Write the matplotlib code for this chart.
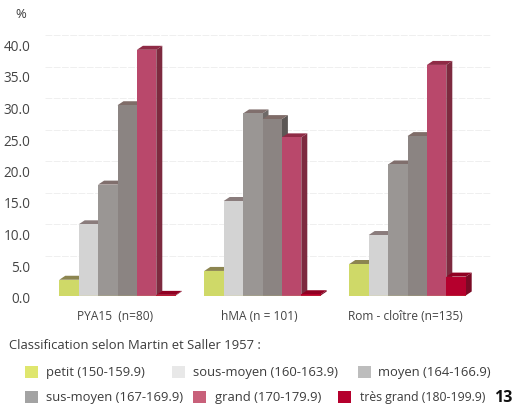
import matplotlib
matplotlib.use("Agg")
import matplotlib.pyplot as plt
from matplotlib.patches import Polygon, Rectangle
from matplotlib.transforms import ScaledTranslation

plt.rcParams['font.family'] = ['Open Sans', 'DejaVu Sans']

groups = ["PYA15  (n=80)", "hMA (n = 101)", "Rom - cloître (n=135)"]
petit = [2.5, 3.9, 5.0]
sous_moyen = [11.3, 15.0, 9.6]
moyen = [17.6, 28.9, 20.8]
sus_moyen = [30.2, 28.0, 25.3]
grand = [39.0, 25.1, 36.6]
tres_grand = [0.1, 0.2, 3.0]
series = [petit, sous_moyen, moyen, sus_moyen, grand, tres_grand]
labels = ["petit (150-159.9)", "sous-moyen (160-163.9)", "moyen (164-166.9)",
          "sus-moyen (167-169.9)", "grand (170-179.9)", "très grand (180-199.9)"]
front = ["#cfd968", "#d3d3d3", "#9a9694", "#8b8482", "#b9486b", "#b5002d"]
side = ["#8f9448", "#8f8f8f", "#6e6a68", "#5c5755", "#7d2a3f", "#7a0a25"]
top = ["#8c8550", "#8a7c7c", "#806f6d", "#7f6c68", "#8f2b46", "#900022"]
swatch = ["#dfe66e", "#e8e8e8", "#bdbdbd", "#a3a3a3", "#c8607a", "#b5002d"]
yticks = [0, 5, 10, 15, 20, 25, 30, 35, 40]

W, H = 513, 406
fig = plt.figure(figsize=(W / 100, H / 100), dpi=100, facecolor="white")
L, R, BASE, PXU = 45, 480, 296.5, 6.3
YMAX = 44
ax = fig.add_axes([L / W, 1 - BASE / H, (R - L) / W, YMAX * PXU / H])
ax.set_xlim(-0.5, 2.5)
ax.set_ylim(0, YMAX)
ax.set_facecolor("none")
for s in ax.spines.values():
    s.set_visible(False)

pxx = 3 / (R - L)           # one pixel in x data units
dx, dy = 6.0 * pxx, 4.0 / PXU   # depth of the pseudo-3D bars
bw = 19.4 * pxx

# back-wall gridlines
shift = ax.transData + ScaledTranslation(0, 8.5 / 100, fig.dpi_scale_trans)
ax.hlines(yticks[1:], -0.5, 2.5 + 10 * pxx, colors="#efefef", lw=0.7,
          linestyles=(0, (7, 1.5)), transform=shift, zorder=0, clip_on=False)

for g in range(len(groups)):
    for i, vals in enumerate(series):
        v = vals[g]
        x0 = g + (i - 3) * bw
        z = 2 + i * 0.1
        ax.add_patch(Polygon([(x0 + bw, 0), (x0 + bw + dx, dy), (x0 + bw + dx, v + dy), (x0 + bw, v)],
                             fc=side[i], ec="none", zorder=z, clip_on=False))
        ax.add_patch(Polygon([(x0, v), (x0 + dx, v + dy), (x0 + bw + dx, v + dy), (x0 + bw, v)],
                             fc=top[i], ec="none", zorder=z, clip_on=False))
        ax.bar(x0, v, bw, align="edge", color=front[i], zorder=z, clip_on=False)
    x_start = g + (0 - 3) * bw
    ax.plot([x_start, g + 3 * bw], [0, 0], color="#e3df5a", lw=0.9, zorder=3)

ax.set_xticks(range(len(groups)))
ax.set_xticklabels(groups, fontsize=8.6, color="#444444")
ax.set_yticks(yticks)
ax.set_yticklabels([f"{t:.1f}" for t in yticks], fontsize=9.8, color="#444444")
ax.tick_params(axis="y", length=0, pad=10.5)
ax.tick_params(axis="x", length=0, pad=9.8)
label_shift = ScaledTranslation(0, -1 / 100, fig.dpi_scale_trans)
for t in ax.get_yticklabels():
    t.set_transform(t.get_transform() + label_shift)
lab_dx = [-2.5, -3, -2.5]
for t, d in zip(ax.get_xticklabels(), lab_dx):
    t.set_transform(t.get_transform() + ScaledTranslation(d / 100, 0, fig.dpi_scale_trans))

def ft(x, y, s, **kw):
    kw.setdefault("fontsize", 9.4)
    kw.setdefault("color", "#3c3c3c")
    fig.text(x / W, 1 - y / H, s, va="center", ha="left", **kw)

ft(15, 15, "%", fontsize=9.4)
ft(9, 346, "Classification selon Martin et Saller 1957 :")

swatch_x = [25, 172, 358, 25, 193, 338]
text_x = [46, 193, 378, 46, 215, 360]
row_y = [373, 373, 373, 398, 398, 398]
label_size = [9.4, 9.4, 9.4, 9.4, 9.4, 8.8]
for i in range(6):
    fig.add_artist(Rectangle((swatch_x[i] / W, 1 - (row_y[i] + 6) / H), 13 / W, 12 / H,
                             transform=fig.transFigure, fc=swatch[i], ec="none"))
    ft(text_x[i], row_y[i], labels[i], fontsize=label_size[i])
ft(494, 398, "13", fontweight="bold", color="#111111", fontsize=11.5)
fig.savefig("out.png", dpi=100)
